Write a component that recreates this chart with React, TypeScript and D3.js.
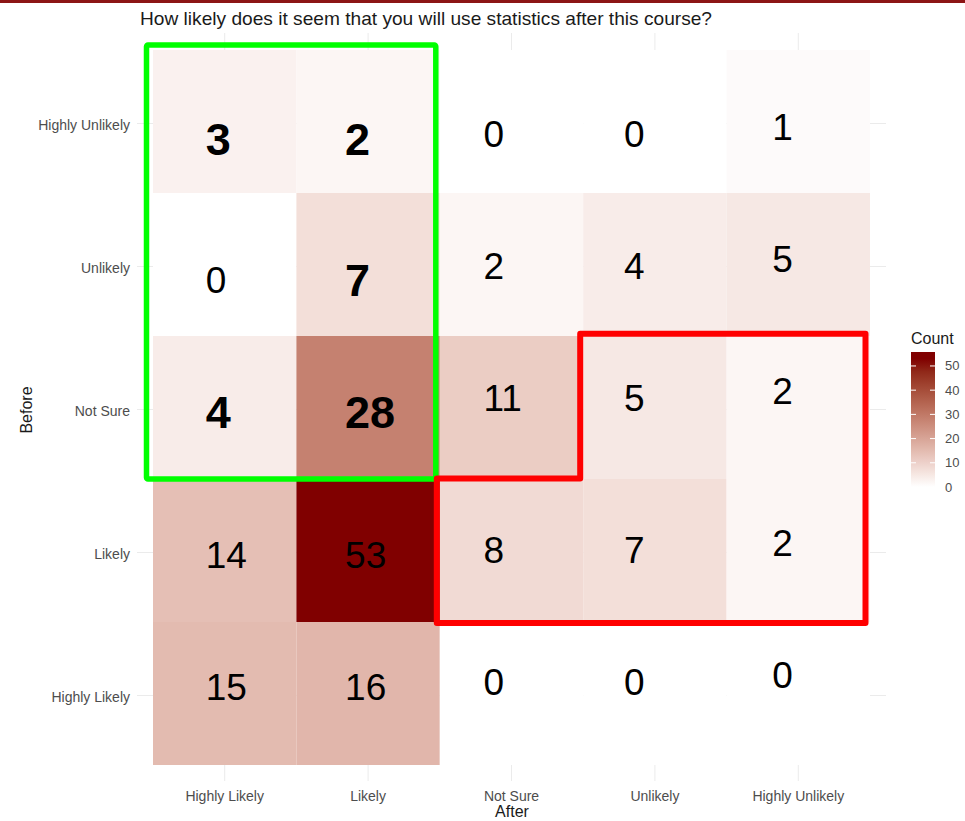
import React from "react";
import * as d3 from "d3";

// ---- data ----
const afterCategories = ["Highly Likely", "Likely", "Not Sure", "Unlikely", "Highly Unlikely"];
const beforeCategories = ["Highly Unlikely", "Unlikely", "Not Sure", "Likely", "Highly Likely"];
const countsBeforeHighlyUnlikely = [3, 2, 0, 0, 1];
const countsBeforeUnlikely = [0, 7, 2, 4, 5];
const countsBeforeNotSure = [4, 28, 11, 5, 2];
const countsBeforeLikely = [14, 53, 8, 7, 2];
const countsBeforeHighlyLikely = [15, 16, 0, 0, 0];
const legendTicks = [0, 10, 20, 30, 40, 50];
const titleText = "How likely does it seem that you will use statistics after this course?";

const countRows = [
  countsBeforeHighlyUnlikely,
  countsBeforeUnlikely,
  countsBeforeNotSure,
  countsBeforeLikely,
  countsBeforeHighlyLikely,
];

// ---- layout ----
const W = 965;
const H = 821;
const FONT = "'Liberation Sans', Arial, Helvetica, sans-serif";
const rowNudge = [12.5, 1.5, -9.5, -1, -11.5];
const colNudge = [5, 5, 0, 0, -7];
const colDx = [-19, -23, -28, -31, -26];

export default function App() {
  const x = d3.scaleBand<string>().domain(afterCategories).range([153, 870]).padding(0);
  const y = d3.scaleBand<string>().domain(beforeCategories).range([50, 765]).padding(0);
  const maxV = d3.max(countRows.flat()) as number;
  const interp = d3.interpolateLab("#ffffff", "#800000");
  const color = d3.scaleSequential(interp).domain([0, maxV]);

  const panel = { x0: 137, x1: 886, y0: 33, y1: 781 };

  const cells = countRows.flatMap((row, r) =>
    row.map((v, c) => ({ r, c, v, before: beforeCategories[r], after: afterCategories[c] }))
  );

  const inGreen = (r: number, c: number) => r <= 2 && c <= 1;

  // legend scale
  const ly = d3.scaleLinear().domain([0, maxV]).range([487, 358.7]);
  const legendX = 911;
  const legendW = 24;
  const barTop = 352;
  const barBottom = 490;
  const gradStops = d3.range(0, 11).map((i) => i / 10);

  // highlight boxes derived from scales
  const bw = x.bandwidth();
  const bh = y.bandwidth();
  const gx0 = (x(afterCategories[0]) as number) - 6.5;
  const gx1 = (x(afterCategories[1]) as number) + bw - 4;
  const gy0 = (y(beforeCategories[0]) as number) - 5;
  const gy1 = (y(beforeCategories[2]) as number) + bh;

  const rxA = (x(afterCategories[2]) as number) - 3;
  const rxB = (x(afterCategories[3]) as number) - 3;
  const rxC = (x(afterCategories[4]) as number) + bw - 4.5;
  const ryA = (y(beforeCategories[2]) as number) - 2.3;
  const ryB = (y(beforeCategories[3]) as number) - 0.5;
  const ryC = (y(beforeCategories[3]) as number) + bh + 1;
  const redPath = `M${rxB},${ryA} L${rxC},${ryA} L${rxC},${ryC} L${rxA},${ryC} L${rxA},${ryB} L${rxB},${ryB} Z`;

  return (
    <svg width={W} height={H} style={{ position: "absolute", left: 0, top: 0, background: "#fff" }} fontFamily={FONT}>
      <rect x={0} y={0} width={W} height={H} fill="#fff" />
      <rect x={0} y={0} width={W} height={3} fill="#8C1515" />
      <text x={140} y={25} fontSize={19} fill="#1a1a1a" textLength={572} lengthAdjust="spacingAndGlyphs">{titleText}</text>

      {/* gridlines */}
      {afterCategories.map((a) => {
        const cx = (x(a) as number) + bw / 2;
        return <line key={"gx" + a} x1={cx} x2={cx} y1={panel.y0} y2={panel.y1} stroke="#ebebeb" strokeWidth={1} />;
      })}
      {beforeCategories.map((b) => {
        const cy = (y(b) as number) + bh / 2 + 2;
        return <line key={"gy" + b} x1={panel.x0} x2={panel.x1} y1={cy} y2={cy} stroke="#ebebeb" strokeWidth={1} />;
      })}

      {/* tiles */}
      {cells.map((d) => (
        <rect
          key={`t${d.r}-${d.c}`}
          x={x(d.after) as number}
          y={y(d.before) as number}
          width={bw}
          height={bh}
          fill={color(d.v)}
        />
      ))}

      {/* labels */}
      {cells.map((d) => {
        const bold = inGreen(d.r, d.c) && d.v > 0;
        const fs = bold ? 45 : 37;
        const cx = (x(d.after) as number) + bw / 2 + colDx[d.c];
        const cy = (y(d.before) as number) + bh / 2 + rowNudge[d.r] + colNudge[d.c] + (inGreen(d.r, d.c) && d.r > 0 ? 9 : 0);
        return (
          <text
            key={`l${d.r}-${d.c}`}
            x={cx}
            y={cy + 0.358 * fs}
            fontSize={fs}
            fontWeight={bold ? "bold" : "normal"}
            fill="#000"
          >
            {d.v}
          </text>
        );
      })}

      {/* highlight boxes */}
      <rect x={gx0} y={gy0} width={gx1 - gx0} height={gy1 - gy0} fill="none" stroke="#00ff00" strokeWidth={5.5} strokeLinejoin="round" rx={1.5} />
      <path d={redPath} fill="none" stroke="#ff0000" strokeWidth={6} strokeLinejoin="round" />

      {/* y axis labels */}
      {beforeCategories.map((b) => (
        <text key={"yl" + b} x={130} y={(y(b) as number) + bh / 2 + 8} textAnchor="end" fontSize={14} fill="#4d4d4d">
          {b}
        </text>
      ))}
      {/* x axis labels */}
      {afterCategories.map((a) => (
        <text key={"xl" + a} x={(x(a) as number) + bw / 2} y={801} textAnchor="middle" fontSize={14} fill="#4d4d4d">
          {a}
        </text>
      ))}
      <text x={512} y={817} textAnchor="middle" fontSize={16} fill="#1a1a1a">After</text>
      <text transform={`translate(32,410) rotate(-90)`} textAnchor="middle" fontSize={16} fill="#1a1a1a">Before</text>

      {/* legend */}
      <defs>
        <linearGradient id="countGrad" gradientUnits="userSpaceOnUse" x1={0} x2={0} y1={ly(0)} y2={ly(maxV)}>
          {gradStops.map((t) => (
            <stop key={t} offset={t} stopColor={interp(t)} />
          ))}
        </linearGradient>
      </defs>
      <text x={911} y={344} fontSize={16} fill="#1a1a1a">Count</text>
      <rect x={legendX} y={barTop} width={legendW} height={barBottom - barTop} fill="url(#countGrad)" />
      {legendTicks.map((t) => (
        <g key={"lt" + t}>
          <line x1={legendX} x2={legendX + 5} y1={ly(t)} y2={ly(t)} stroke="#fff" strokeWidth={1} />
          <line x1={legendX + legendW - 5} x2={legendX + legendW} y1={ly(t)} y2={ly(t)} stroke="#fff" strokeWidth={1} />
          <text x={945} y={ly(t) + 4.5} fontSize={13} fill="#4d4d4d">{t}</text>
        </g>
      ))}
    </svg>
  );
}
